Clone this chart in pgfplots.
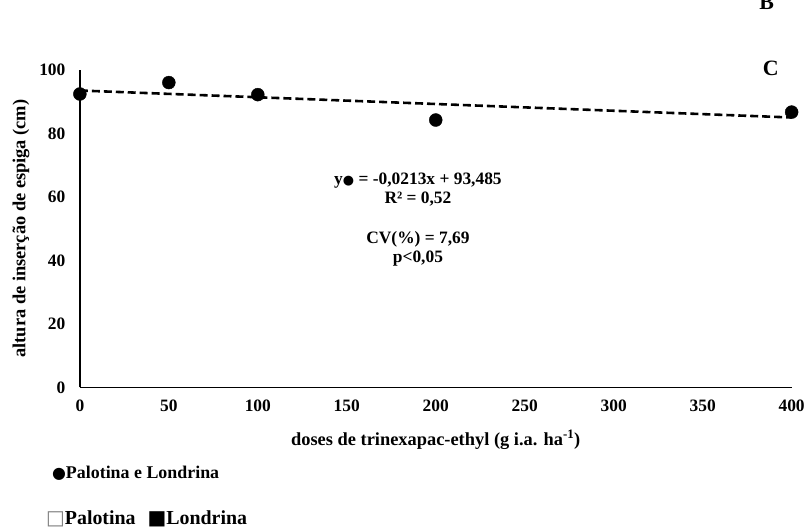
\documentclass[border=0pt]{standalone}
\usepackage{fontspec}
\setmainfont{Liberation Serif}
\newfontfamily\sym{DejaVu Sans}
\usepackage{pgfplots}
\pgfplotsset{compat=1.18}

\begin{document}
\begin{tikzpicture}[font=\bfseries]
\begin{axis}[
    at={(0,0)}, anchor=south west,
    scale only axis,
    width=713bp, height=318bp,
    xmin=0, xmax=400, ymin=0, ymax=100,
    axis x line*=bottom, axis y line*=left,
    axis line style={line width=1.4pt, -},
    xtick={0,50,...,400}, ytick={0,20,...,100},
    major tick length=0pt,
    /pgf/number format/assume math mode=true,
    tick label style={font=\bfseries\fontsize{17.5}{17.5}\selectfont},
    xticklabel style={yshift=-9bp},
    yticklabel style={xshift=-11bp},
    xlabel={doses de trinexapac-ethyl (g i.a. ha\textsuperscript{-1})},
    ylabel={altura de inserção de espiga (cm)},
    label style={font=\bfseries\fontsize{18.5}{18.5}\selectfont},
    xlabel style={yshift=-12bp},
    ylabel style={yshift=3bp},
    clip=false,
]
\addplot[black, line width=2.6pt, dash pattern=on 8bp off 4bp]
  coordinates {(0,93.5)(400,85.0)};
\addplot[only marks, mark=*, mark size=6.5bp, black]
  coordinates {(0,92.4)(50,96.0)(100,92.2)(200,84.2)(400,86.7)};
\node[font=\bfseries\fontsize{17.5}{19}\selectfont, align=center] at (axis cs:190,62.3)
  {y{\sym\fontsize{13}{13}\selectfont ●} = -0,0213x + 93,485\\R² = 0,52};
\node[font=\bfseries\fontsize{17.5}{19}\selectfont, align=center] at (axis cs:190,43.6)
  {CV(\%) = 7,69\\p<0,05};
\end{axis}
\path[use as bounding box] (-80bp,-143bp) rectangle (728bp,388bp);
\node[anchor=west, font=\bfseries\fontsize{18}{18}\selectfont, inner sep=0pt] at (-28bp,-86bp)
  {{\sym\fontsize{16}{16}\selectfont ●}Palotina e Londrina};
\node[anchor=west, font=\bfseries\fontsize{20}{20}\selectfont, inner sep=0pt] at (-34bp,-132bp)
  {{\sym\color{gray}□}Palotina\hspace{0.6em}{\sym ■}Londrina};
\node[font=\bfseries\fontsize{22}{22}\selectfont] at (692bp,320bp) {C};
\node[font=\bfseries\fontsize{22}{22}\selectfont, anchor=base] at (688bp,378bp) {B};
\end{tikzpicture}
\end{document}
